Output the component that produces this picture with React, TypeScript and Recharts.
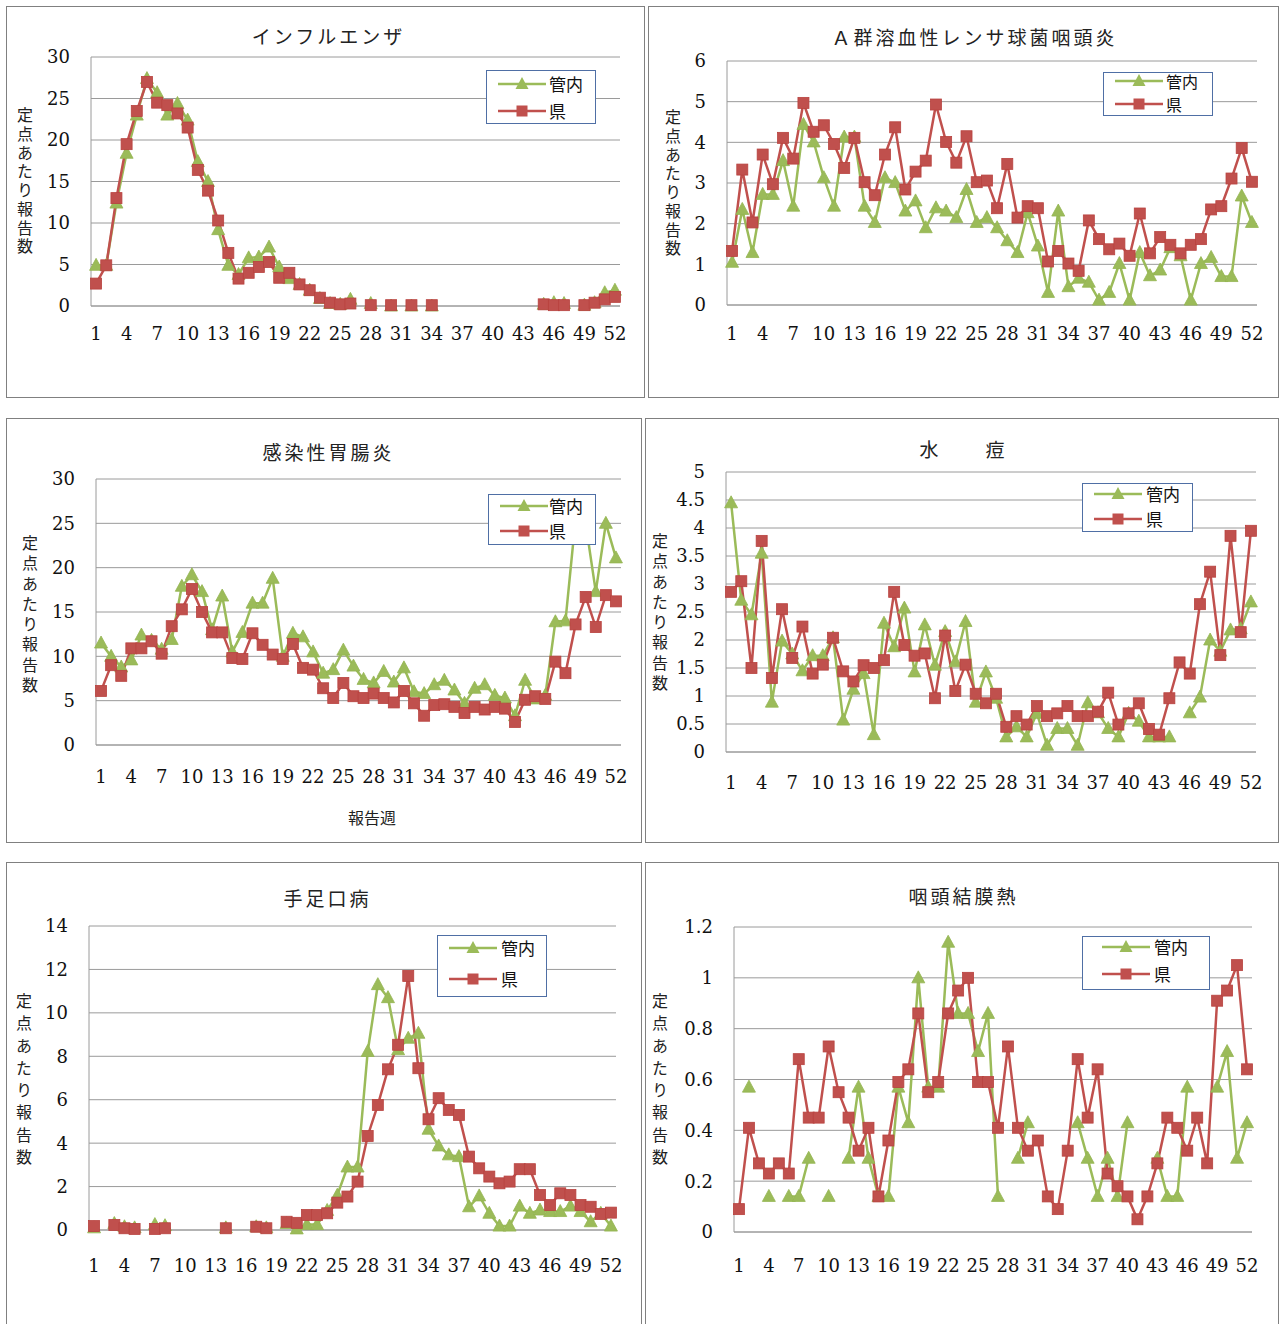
import React from 'react';
import { LineChart, Line, XAxis, YAxis, CartesianGrid } from 'recharts';

// 報告週
const weeks = [
  1, 2, 3, 4, 5, 6, 7, 8, 9, 10, 11, 12, 13, 14, 15, 16, 17, 18, 19, 20, 21, 22, 23, 24, 25, 26,
  27, 28, 29, 30, 31, 32, 33, 34, 35, 36, 37, 38, 39, 40, 41, 42, 43, 44, 45, 46, 47, 48, 49, 50, 51, 52,
];

// インフルエンザ
const fluKannai = [
  4.9, 4.9, 12.4, 18.4, 23.0, 27.4, 25.7, 23.0, 24.4, 22.4, 17.4, 15.0, 9.2, 4.9, 3.8, 5.8, 5.9, 7.1, 4.7, 3.3,
  2.6, 1.9, 0.9, 0.3, 0.2, 0.8, null, 0.3, null, 0, null, 0, null, 0, null, null, null, null, null, null,
  null, null, null, null, 0.2, 0.4, 0.3, null, 0.1, 0.4, 1.6, 1.9,
];
const fluKen = [
  2.7, 4.9, 13.0, 19.5, 23.5, 27.0, 24.5, 24.2, 23.2, 21.5, 16.4, 13.9, 10.3, 6.4, 3.3, 4.0, 4.7, 5.3, 3.4, 4.0,
  2.6, 1.9, 1.0, 0.4, 0.2, 0.3, null, 0.1, null, 0.1, null, 0.1, null, 0.1, null, null, null, null, null, null,
  null, null, null, null, 0.2, 0.1, 0.1, null, 0.1, 0.4, 0.8, 1.1,
];

// Ａ群溶血性レンサ球菌咽頭炎
const strepKannai = [
  1.05, 2.35, 1.29, 2.72, 2.72, 3.55, 2.43, 4.44, 4.01, 3.13, 2.43, 4.13, 4.13, 2.43, 2.03, 3.13, 3.01, 2.31,
  2.56, 1.9, 2.39, 2.31, 2.15, 2.84, 2.03, 2.15, 1.9, 1.58, 1.29, 2.27, 1.45, 0.31, 2.31, 0.45, 0.66, 0.56,
  0.12, 0.31, 1.02, 0.12, 1.29, 0.72, 0.86, 1.41, 1.21, 0.12, 1.02, 1.17, 0.7, 0.7, 2.68, 2.03,
];
const strepKen = [
  1.33, 3.33, 2.03, 3.7, 2.97, 4.11, 3.6, 4.97, 4.26, 4.42, 3.96, 3.37, 4.11, 3.02, 2.7, 3.7, 4.37, 2.84,
  3.28, 3.55, 4.93, 4.01, 3.5, 4.15, 3.02, 3.06, 2.38, 3.47, 2.15, 2.43, 2.38, 1.07, 1.33, 1.02, 0.84, 2.08,
  1.62, 1.37, 1.51, 1.21, 2.25, 1.27, 1.67, 1.48, 1.27, 1.48, 1.62, 2.35, 2.43, 3.11, 3.86, 3.03,
];

// 感染性胃腸炎
const gastroKannai = [
  11.5, 10.0, 8.8, 9.6, 12.4, 11.8, 10.8, 11.9, 17.9, 19.2, 17.3, 13.0, 16.8, 10.5, 12.7, 16.0, 16.0, 18.8,
  10.0, 12.6, 12.2, 10.5, 8.1, 8.5, 10.7, 8.9, 7.4, 7.0, 8.3, 7.1, 8.7, 6.0, 5.8, 6.8, 7.3, 6.2, 4.7, 6.4,
  6.8, 5.6, 5.3, 3.3, 7.3, 5.2, 5.6, 13.9, 14.0, 25.5, 25.0, 17.3, 25.0, 21.1,
];
const gastroKen = [
  6.1, 9.0, 7.8, 10.9, 10.9, 11.7, 10.3, 13.4, 15.3, 17.6, 15.0, 12.7, 12.7, 9.8, 9.7, 12.6, 11.3, 10.2,
  9.7, 11.4, 8.7, 8.5, 6.4, 5.3, 7.0, 5.5, 5.3, 5.8, 5.3, 4.8, 6.1, 4.7, 3.3, 4.5, 4.6, 4.3, 3.6, 4.3, 4.0,
  4.3, 4.1, 2.6, 5.1, 5.5, 5.2, 9.4, 8.1, 13.6, 16.7, 13.3, 16.9, 16.2,
];

// 水痘
const chickenKannai = [
  4.45, 2.71, 2.45, 3.55, 0.89, 1.98, 1.75, 1.45, 1.72, 1.72, 2.04, 0.57, 1.12, 1.4, 0.31, 2.3, 1.88, 2.57,
  1.43, 2.27, 1.55, 2.15, 1.61, 2.33, 0.89, 1.43, 0.96, 0.27, 0.45, 0.27, 0.69, 0.12, 0.42, 0.42, 0.12, 0.88,
  0.7, 0.42, 0.27, 0.69, 0.55, 0.27, 0.27, 0.27, null, 0.7, 0.98, 2.0, 1.8, 2.18, 2.2, 2.68,
];
const chickenKen = [
  2.86, 3.05, 1.5, 3.77, 1.32, 2.55, 1.68, 2.24, 1.4, 1.56, 2.04, 1.44, 1.26, 1.55, 1.5, 1.64, 2.86, 1.91,
  1.72, 1.76, 0.96, 2.08, 1.09, 1.56, 1.04, 0.87, 1.04, 0.45, 0.64, 0.49, 0.82, 0.64, 0.69, 0.82, 0.64, 0.64,
  0.72, 1.06, 0.49, 0.69, 0.87, 0.41, 0.31, 0.96, 1.6, 1.4, 2.64, 3.22, 1.73, 3.86, 2.14, 3.95,
];

// 手足口病
const hfmdKannai = [
  0.1, null, 0.3, 0.15, 0.1, null, 0.25, 0.2, null, null, null, null, null, 0.1, null, null, 0.15, 0.1, null,
  0.3, 0.05, 0.25, 0.25, 0.9, 1.6, 2.9, 2.9, 8.22, 11.3, 10.7, 8.3, 8.83, 9.06, 4.64, 3.87, 3.46, 3.38,
  1.07, 1.57, 0.77, 0.18, 0.18, 1.1, 0.77, 0.92, 0.85, 0.85, 1.1, 0.85, 0.38, 0.77, 0.18,
];
const hfmdKen = [
  0.18, null, 0.23, 0.08, 0.05, null, 0.05, 0.08, null, null, null, null, null, 0.08, null, null, 0.15, 0.08,
  null, 0.38, 0.33, 0.69, 0.69, 0.77, 1.26, 1.54, 2.23, 4.33, 5.76, 7.4, 8.53, 11.7, 7.45, 5.1, 6.07, 5.53,
  5.3, 3.38, 2.84, 2.46, 2.15, 2.23, 2.8, 2.8, 1.61, 1.15, 1.69, 1.61, 1.15, 1.07, 0.74, 0.8,
];

// 咽頭結膜熱
const pcfKannai = [
  null, 0.57, null, 0.14, null, 0.14, 0.14, 0.29, null, 0.14, null, 0.29, 0.57, 0.29, 0.14, 0.14, 0.57, 0.43,
  1.0, 0.57, 0.57, 1.14, 0.86, 0.86, 0.71, 0.86, 0.14, null, 0.29, 0.43, null, null, null, null, 0.43, 0.29,
  0.14, 0.29, 0.14, 0.43, null, null, 0.29, 0.14, 0.14, 0.57, null, null, 0.57, 0.71, 0.29, 0.43,
];
const pcfKen = [
  0.09, 0.41, 0.27, 0.23, 0.27, 0.23, 0.68, 0.45, 0.45, 0.73, 0.55, 0.45, 0.32, 0.41, 0.14, 0.36, 0.59, 0.64,
  0.86, 0.55, 0.59, 0.86, 0.95, 1.0, 0.59, 0.59, 0.41, 0.73, 0.41, 0.32, 0.36, 0.14, 0.09, 0.32, 0.68, 0.45,
  0.64, 0.23, 0.18, 0.14, 0.05, 0.14, 0.27, 0.45, 0.41, 0.32, 0.45, 0.27, 0.91, 0.95, 1.05, 0.64,
];

const ticks30 = [0, 5, 10, 15, 20, 25, 30];
const ticks6 = [0, 1, 2, 3, 4, 5, 6];
const ticks5 = [0, 0.5, 1, 1.5, 2, 2.5, 3, 3.5, 4, 4.5, 5];
const ticks14 = [0, 2, 4, 6, 8, 10, 12, 14];
const ticks12 = [0, 0.2, 0.4, 0.6, 0.8, 1, 1.2];

const GREEN = '#9BBB59';
const RED = '#C0504D';
const GRID = '#9a9a9a';
const JP = '"Noto Sans CJK JP", "Noto Sans", sans-serif';
const NUM = '"DejaVu Serif", "Liberation Serif", serif';
const Y_LABEL = '定点あたり報告数';

interface Rect { l: number; t: number; r: number; b: number }
interface LegendSpec {
  l: number; t: number; w: number; h: number; r1: number; r2: number; lx: number; tx: number; fs: number;
}
interface PanelSpec {
  title: string;
  titleX: number;
  titleY: number;
  box: Rect;
  plot: Rect;
  max: number;
  ticks: number[];
  xTickGap: number;
  yLabelX: number;
  yLabelTop: number;
  yLabelBottom: number;
  legend: LegendSpec;
  kannai: (number | null)[];
  ken: (number | null)[];
  xTitle?: string;
  xTitleX?: number;
  xTitleY?: number;
}

const panels: PanelSpec[] = [
  {
    title: 'インフルエンザ', titleX: 327, titleY: 36,
    box: { l: 6, t: 6, r: 645, b: 398 }, plot: { l: 91, t: 57, r: 620, b: 306 },
    max: 30, ticks: ticks30, xTickGap: 15, yLabelX: 25, yLabelTop: 106, yLabelBottom: 256,
    legend: { l: 486, t: 70, w: 110, h: 54, r1: 13, r2: 40, lx: 11, tx: 62, fs: 17 },
    kannai: fluKannai, ken: fluKen,
  },
  {
    title: 'Ａ群溶血性レンサ球菌咽頭炎', titleX: 973, titleY: 37,
    box: { l: 648, t: 6, r: 1279, b: 398 }, plot: { l: 727, t: 61, r: 1257, b: 305 },
    max: 6, ticks: ticks6, xTickGap: 16, yLabelX: 673, yLabelTop: 108, yLabelBottom: 258,
    legend: { l: 1103, t: 72, w: 110, h: 44, r1: 8, r2: 31, lx: 11, tx: 62, fs: 16 },
    kannai: strepKannai, ken: strepKen,
  },
  {
    title: '感染性胃腸炎', titleX: 327, titleY: 452,
    box: { l: 6, t: 418, r: 642, b: 843 }, plot: { l: 96, t: 479, r: 621, b: 745 },
    max: 30, ticks: ticks30, xTickGap: 19, yLabelX: 30, yLabelTop: 533, yLabelBottom: 695,
    legend: { l: 488, t: 494, w: 108, h: 51, r1: 11, r2: 36, lx: 11, tx: 60, fs: 17 },
    kannai: gastroKannai, ken: gastroKen, xTitle: '報告週', xTitleX: 372, xTitleY: 817,
  },
  {
    title: '水　　痘', titleX: 962, titleY: 449,
    box: { l: 645, t: 418, r: 1279, b: 843 }, plot: { l: 726, t: 472, r: 1256, b: 752 },
    max: 5, ticks: ticks5, xTickGap: 18, yLabelX: 660, yLabelTop: 531, yLabelBottom: 693,
    legend: { l: 1082, t: 483, w: 111, h: 49, r1: 10, r2: 35, lx: 11, tx: 63, fs: 17 },
    kannai: chickenKannai, ken: chickenKen,
  },
  {
    title: '手足口病', titleX: 326, titleY: 898,
    box: { l: 6, t: 862, r: 642, b: 1340 }, plot: { l: 89, t: 926, r: 616, b: 1230 },
    max: 14, ticks: ticks14, xTickGap: 23, yLabelX: 24, yLabelTop: 990, yLabelBottom: 1168,
    legend: { l: 437, t: 935, w: 110, h: 62, r1: 12, r2: 43, lx: 11, tx: 63, fs: 17 },
    kannai: hfmdKannai, ken: hfmdKen,
  },
  {
    title: '咽頭結膜熱', titleX: 962, titleY: 896,
    box: { l: 645, t: 862, r: 1279, b: 1340 }, plot: { l: 734, t: 927, r: 1252, b: 1232 },
    max: 1.2, ticks: ticks12, xTickGap: 21, yLabelX: 660, yLabelTop: 990, yLabelBottom: 1168,
    legend: { l: 1082, t: 936, w: 128, h: 54, r1: 10, r2: 37, lx: 19, tx: 71, fs: 17 },
    kannai: pcfKannai, ken: pcfKen,
  },
];

function SquareDot(props: any) {
  const { cx, cy, value, index } = props;
  if (cx == null || cy == null || value == null) return <g key={`s${index}`} />;
  return (
    <rect key={`s${index}`} x={cx - 5.5} y={cy - 5.5} width={11} height={11}
      fill={RED} stroke="#b8423f" strokeWidth={0.8} />
  );
}

function TriangleDot(props: any) {
  const { cx, cy, value, index } = props;
  if (cx == null || cy == null || value == null) return <g key={`t${index}`} />;
  const pts = `${cx},${cy - 7} ${cx + 6.5},${cy + 5} ${cx - 6.5},${cy + 5}`;
  return <polygon key={`t${index}`} points={pts} fill={GREEN} stroke="#94b552" strokeWidth={0.8} />;
}

function LegendMark({ color, square }: { color: string; square: boolean }) {
  return (
    <svg width={48} height={14} style={{ display: 'block' }}>
      <line x1={0} y1={7} x2={48} y2={7} stroke={color} strokeWidth={2.5} />
      {square ? (
        <rect x={18.5} y={1.5} width={11} height={11} fill={color} />
      ) : (
        <polygon points="24,0 30.5,12 17.5,12" fill={color} />
      )}
    </svg>
  );
}

function LegendBox({ spec }: { spec: LegendSpec }) {
  const rows = [
    { y: spec.r1, label: '管内', color: GREEN, square: false },
    { y: spec.r2, label: '県', color: RED, square: true },
  ];
  return (
    <div style={{
      position: 'absolute', left: spec.l, top: spec.t, width: spec.w, height: spec.h,
      border: '1px solid #4f6fa5', background: '#fff', boxSizing: 'border-box',
    }}>
      {rows.map((r) => (
        <React.Fragment key={r.label}>
          <div style={{ position: 'absolute', left: spec.lx, top: r.y - 7 }}>
            <LegendMark color={r.color} square={r.square} />
          </div>
          <div style={{
            position: 'absolute', left: spec.tx, top: r.y - 10, lineHeight: '20px',
            fontFamily: JP, fontSize: spec.fs, color: '#111', whiteSpace: 'nowrap',
          }}>{r.label}</div>
        </React.Fragment>
      ))}
    </div>
  );
}

function Panel({ p }: { p: PanelSpec }) {
  const data = weeks.map((w, i) => ({ week: w, kannai: p.kannai[i], ken: p.ken[i] }));
  const plotW = p.plot.r - p.plot.l;
  const half = plotW / weeks.length / 2;
  const chartW = p.box.r - p.box.l;
  const xAxisH = 60;
  const chartH = p.plot.b - p.box.t + xAxisH;
  const charH = (p.yLabelBottom - p.yLabelTop) / Array.from(Y_LABEL).length;
  const yFont = 16;

  return (
    <>
      <div style={{
        position: 'absolute', left: p.box.l, top: p.box.t,
        width: p.box.r - p.box.l, height: p.box.b - p.box.t,
        border: '1px solid #808080', boxSizing: 'border-box',
      }} />
      <div style={{
        position: 'absolute', left: p.titleX - 300, top: p.titleY - 14, width: 600,
        textAlign: 'center', fontFamily: JP, fontSize: 19, letterSpacing: 3, paddingLeft: 3,
        lineHeight: '28px', color: '#222', boxSizing: 'border-box',
      }}>{p.title}</div>
      <div style={{ position: 'absolute', left: p.box.l, top: p.box.t }}>
        <LineChart width={chartW} height={chartH} data={data}
          margin={{ top: p.plot.t - p.box.t, right: p.box.r - p.plot.r, left: 0, bottom: 0 }}>
          <CartesianGrid vertical={false} stroke={GRID} strokeWidth={1} />
          <XAxis dataKey="week" interval={2} height={xAxisH} tickLine={false}
            axisLine={{ stroke: GRID }} padding={{ left: half, right: half }} tickMargin={p.xTickGap}
            tick={{ fill: '#111', fontSize: 18, fontFamily: NUM }} />
          <YAxis domain={[0, p.max]} ticks={p.ticks} width={p.plot.l - p.box.l} tickLine={false}
            axisLine={{ stroke: GRID }} tickMargin={15} interval={0}
            tick={{ fill: '#111', fontSize: 18, fontFamily: NUM }} />
          <Line dataKey="kannai" stroke={GREEN} strokeWidth={2.5} dot={TriangleDot}
            activeDot={false} isAnimationActive={false} />
          <Line dataKey="ken" stroke={RED} strokeWidth={2.5} dot={SquareDot}
            activeDot={false} isAnimationActive={false} />
        </LineChart>
      </div>
      <div style={{
        position: 'absolute', left: p.yLabelX - 12, top: p.yLabelTop, width: 24,
        height: p.yLabelBottom - p.yLabelTop + 60, writingMode: 'vertical-rl', textOrientation: 'upright',
        whiteSpace: 'nowrap', fontFamily: JP, fontSize: yFont, lineHeight: '24px',
        letterSpacing: charH - yFont, paddingTop: (charH - yFont) / 2, boxSizing: 'border-box', color: '#222',
      }}>{Y_LABEL}</div>
      {p.xTitle && (
        <div style={{
          position: 'absolute', left: (p.xTitleX ?? 0) - 100, top: (p.xTitleY ?? 0) - 12, width: 200,
          textAlign: 'center', fontFamily: JP, fontSize: 16, lineHeight: '24px', color: '#222',
        }}>{p.xTitle}</div>
      )}
      <LegendBox spec={p.legend} />
    </>
  );
}

export default function App() {
  return (
    <div style={{
      position: 'absolute', left: 0, top: 0, width: 1280, height: 1324,
      overflow: 'hidden', background: '#fff',
    }}>
      {panels.map((p) => <Panel key={p.title} p={p} />)}
    </div>
  );
}
